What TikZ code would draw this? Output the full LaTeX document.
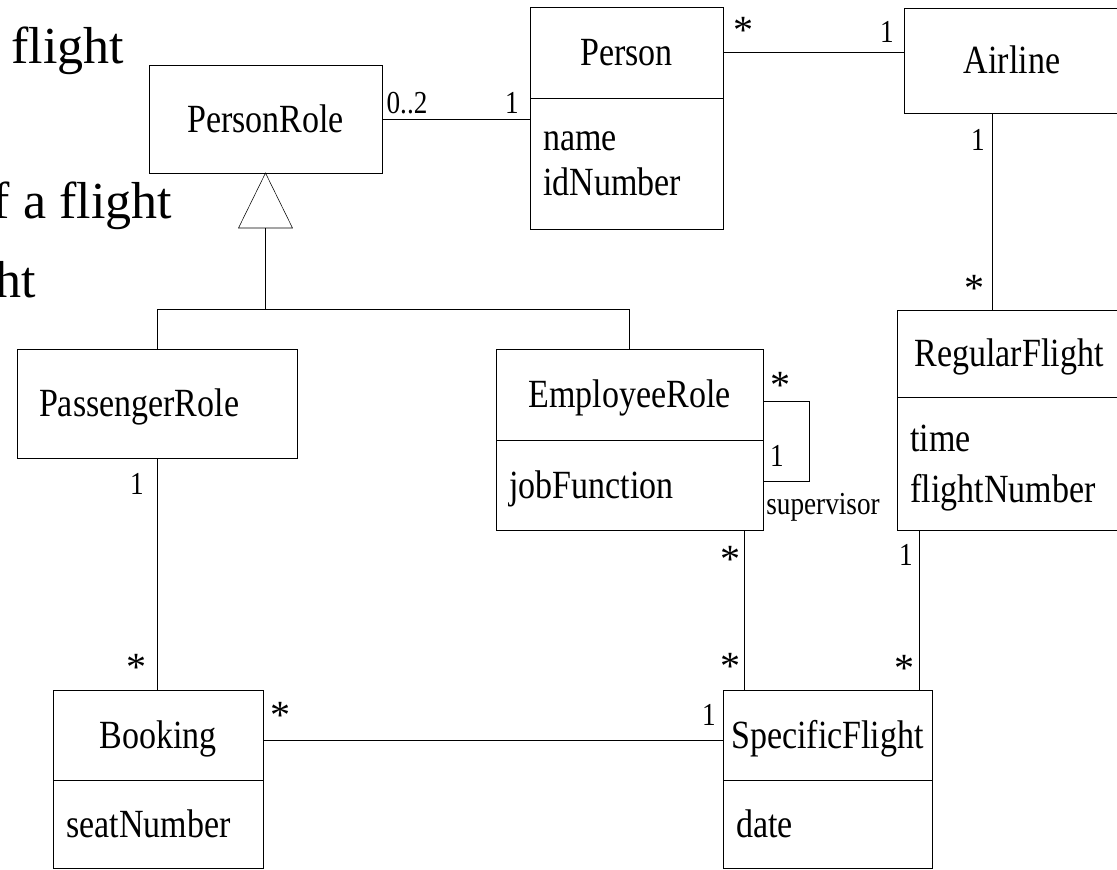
\documentclass[tikz,border=0pt]{standalone}
\usepackage{fontspec}
\setmainfont{Liberation Serif}
\newfontfamily\umlfont[FakeStretch=0.85]{Liberation Serif}
\usetikzlibrary{positioning,calc}
\tikzset{line width=1.5pt,
  every node/.style={outer sep=0pt},
  clsname/.style={draw,inner sep=0pt,text height=20pt,text depth=0pt,font=\umlfont\fontsize{30}{36}\selectfont},
  clsattr/.style={draw,inner xsep=10pt,inner ysep=0pt,align=left,font=\umlfont\fontsize{30}{34}\selectfont},
  oneattr/.style={clsattr,text height=20pt,text depth=0pt},
  mult/.style={inner sep=0pt,font=\umlfont\fontsize{24}{26}\selectfont},
  star/.style={inner sep=0pt,yshift=-3.6pt,font=\fontsize{30}{32}\selectfont},
  slide/.style={anchor=base east,inner sep=0pt,font=\fontsize{39}{45}\selectfont}}

\begin{document}
\begin{tikzpicture}[x=.75pt,y=-.75pt]
\useasboundingbox(0,0)rectangle(1117,869);
\clip(0,0)rectangle(1117,869);
% slide text behind the diagram
\node[slide](bg1)at(124,63){flight};
\node[slide](bg2)at(172,218){f a flight};
\node[slide](bg3)at(36,297){ht};
% classes
\node[clsname,minimum width=174.75pt,minimum height=81pt](prole)at(265.5,119){PersonRole};
\node[clsname,minimum width=144.75pt,minimum height=68.25pt](pname)at(626.5,52.5){Person};
\node[clsattr,text width=124.75pt,minimum height=98.25pt,below=0pt of pname](pattr){name\\idNumber};
\node[clsname,minimum width=162pt,minimum height=78.75pt](airline)at(1012,60.5){Airline};
\node[clsname,minimum width=168pt,minimum height=65.25pt](rfname)at(1009,353.5){RegularFlight};
\node[clsattr,text width=148pt,minimum height=99.75pt,below=0pt of rfname,font=\umlfont\fontsize{30}{38}\selectfont](rfattr){\strut time\\flightNumber};
\node[clsname,minimum width=210pt,minimum height=81.75pt,text width=177pt,inner xsep=16.5pt,align=left](prname)at(157,403.5){PassengerRole};
\node[clsname,minimum width=200.25pt,minimum height=68.25pt](ename)at(629.5,394.5){EmployeeRole};
\node[oneattr,text width=180.25pt,minimum height=67.5pt,below=0pt of ename](eattr){jobFunction};
\node[clsname,minimum width=157.5pt,minimum height=67.5pt](bname)at(158,735){Booking};
\node[oneattr,text width=137.5pt,minimum height=66pt,below=0pt of bname](battr){seatNumber};
\node[clsname,minimum width=156.75pt,minimum height=67.5pt](sfname)at(827.5,735){SpecificFlight};
\node[oneattr,text width=136.75pt,minimum height=66pt,below=0pt of sfname](sfattr){date};
% generalization
\draw(prole.south)--++(-27,55)--++(54,0)--cycle;
\coordinate(tribase)at($(prole.south)+(0,55)$);\coordinate(fork)at($(tribase)+(0,81)$);
\draw(tribase)--(fork);\draw(prname.north)|-(fork)-|(ename.north);
% associations
\draw(prole.east)--(prole.east-|pname.west);
\draw(pname.east)--(pname.east-|airline.west);
\draw([xshift=-15pt]airline.south)--([xshift=-15pt]airline.south|-rfname.north);
\draw([yshift=-4.9pt]ename.east)--++(46,0)|-([yshift=3pt]eattr.east);
\draw([xshift=-14.25pt]eattr.south east)--([xshift=-14.25pt]eattr.south east|-sfname.north);
\draw([xshift=-9.75pt]sfname.north east)--([xshift=-9.75pt]sfname.north east|-rfattr.south);
\draw(prname.south)--(prname.south|-bname.north);
\draw([yshift=-3.75pt]bname.east)--([yshift=-3.75pt]bname.east-|sfname.west);
% multiplicities
\node[mult](m1)at(407,103){0..2};\node[mult](m2)at(512,103){1};
\node[star](m3)at(743,26){*};\node[mult](m4)at(887,32){1};
\node[mult](m5)at(978,140){1};\node[star](m6)at(974,284){*};
\node[star](m7)at(780,381){*};\node[mult](m8)at(777,456){1};
\node[mult](sup)at(823,507){supervisor};
\node[star](m9)at(730,555){*};\node[star](m10)at(730,662){*};
\node[mult](m11)at(906,555){1};\node[star](m12)at(904,664){*};
\node[mult](m13)at(709,715){1};\node[star](m14)at(280,711){*};
\node[mult](m15)at(137,484){1};\node[star](m16)at(136,663){*};
\end{tikzpicture}
\end{document}
